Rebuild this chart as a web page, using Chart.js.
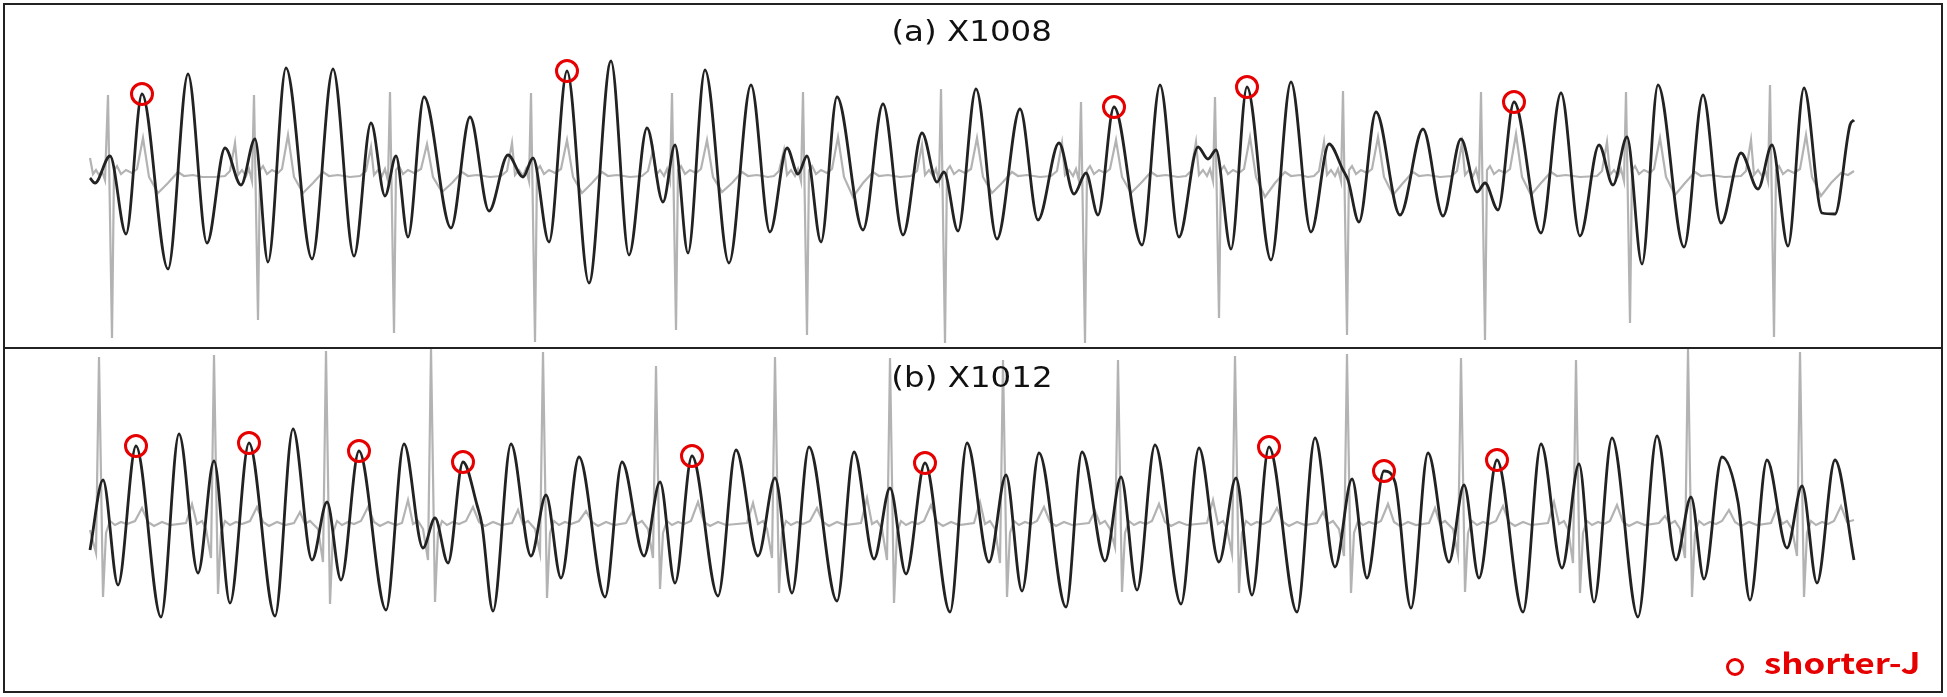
<!DOCTYPE html>
<html><head><meta charset="utf-8">
<script src="https://cdn.jsdelivr.net/npm/chart.js@4.4.1/dist/chart.umd.min.js"></script>
<style>
html,body{margin:0;padding:0;background:#fff;}
body{width:1947px;height:697px;position:relative;overflow:hidden;}
.cv{position:absolute;left:0;width:1947px;}
.box{position:absolute;border:2px solid #222;pointer-events:none;box-sizing:border-box;}
.ttl{position:absolute;left:0;width:1944px;text-align:center;font-family:"DejaVu Sans",sans-serif;font-size:29px;line-height:29px;color:#111;}
.ttl span{display:inline-block;transform:scaleX(1.12);}
#leg{position:absolute;left:1726px;top:650px;height:30px;font-family:"Noto Sans CJK SC","Noto Sans",sans-serif;font-weight:bold;color:#e60000;font-size:29px;line-height:30px;white-space:nowrap;}
#legMark{position:absolute;left:0;top:8px;width:12px;height:12px;border:3px solid #e60000;border-radius:50%;}
#legText{position:absolute;left:38px;top:-4px;transform:scaleX(1.2);transform-origin:0 50%;}
</style></head>
<body>
<div class="cv" style="top:0;height:348px;"><canvas id="ca"></canvas></div>
<div class="cv" style="top:348px;height:349px;"><canvas id="cb"></canvas></div>
<div class="box" style="left:3px;top:3px;width:1940px;height:346px;"></div>
<div class="box" style="left:3px;top:347px;width:1940px;height:346px;"></div>
<div class="ttl" id="titleA" style="top:17px;"><span></span></div>
<div class="ttl" id="titleB" style="top:363px;"><span></span></div>
<div id="leg"><div id="legMark"></div><div id="legText"></div></div>
<script>
// ---- texts ----
const panelTitles = ["(a) X1008", "(b) X1012"];
const legendLabel = "shorter-J";

// ---- panel (a) X1008 : [time (samples), amplitude] ----
const bcgA = [[0,-5],[5,-10],[20,17],[36,-61],[52,79],[78,-96],[98,99],[117,-70],[135,25],[151,-12],[165,34],[178,-89],[196,105],[222,-86],[243,104],[264,-83],[281,50],[295,-23],[306,17],[318,-64],[334,76],[361,-55],[380,56],[399,-38],[418,18],[433,-4],[443,15],[459,-69],[477,102],[499,-110],[521,112],[539,-82],[557,45],[573,-29],[585,28],[598,-80],[615,103],[639,-90],[661,88],[680,-59],[697,25],[708,-1],[717,17],[731,-69],[747,76],[773,-57],[793,69],[813,-62],[832,40],[847,-9],[854,1],[868,-58],[886,84],[907,-66],[930,64],[948,-47],[969,30],[984,-21],[996,0],[1008,-42],[1024,66],[1052,-72],[1070,88],[1089,-64],[1108,26],[1118,14],[1126,23],[1141,-76],[1157,86],[1181,-87],[1201,91],[1221,-59],[1239,29],[1253,3],[1258,-7],[1269,-49],[1286,61],[1310,-42],[1333,44],[1353,-43],[1371,34],[1387,-19],[1395,-10],[1408,-37],[1424,71],[1451,-60],[1471,80],[1490,-63],[1509,28],[1523,-12],[1537,36],[1552,-91],[1568,88],[1594,-74],[1613,78],[1631,-50],[1651,20],[1668,-16],[1682,28],[1698,-73],[1714,85],[1732,-40],[1745,-41],[1760,48],[1764,53]];
const ecgA = [[0,15],[3,-1],[6,3],[9,-2],[12,2],[15,-7],
[18,78],[22,-165],[24,3],[27,7],[31,-1],[36,3],[42,0],[47,4],[53,35],[59,-4],[68,-20],[78,-10],[88,1],[94,-3],[103,-2],[112,-4],[125,-4],[135,-3],
[140,2],[145,30],[148,-2],[152,3],[156,-3],[159,4],[162,-8],[164,78],[168,-147],[170,3],[173,7],[177,-1],[182,3],[188,0],[192,4],[198,38],[204,-4],[213,-20],[223,-10],[233,1],[239,-3],[248,-2],[260,-4],[270,-3],
[276,2],[281,26],[284,-2],[288,3],[292,-3],[295,4],[298,-8],[300,81],[304,-160],[306,3],[309,7],[313,-1],[318,3],[324,0],[331,4],[337,29],[343,-4],[352,-19],[362,-10],[372,1],[378,-3],[387,-2],[400,-4],[411,-3],
[417,2],[422,30],[425,-2],[429,3],[433,-3],[436,4],[439,-8],[441,80],[445,-169],[447,3],[450,7],[454,-1],[459,3],[465,0],[471,4],[477,33],[483,-4],[492,-20],[502,-10],[512,1],[518,-3],[527,-2],[540,-4],[552,-3],
[558,2],[563,23],[566,-2],[570,3],[574,-3],[577,4],[580,-8],[582,80],[586,-157],[588,3],[591,7],[595,-1],[600,3],[606,0],[611,4],[617,33],[623,-4],[632,-19],[642,-10],[652,1],[658,-3],[667,-2],[678,-4],[684,-3],
[689,2],[694,23],[697,-2],[701,3],[705,-3],[708,4],[711,-8],[713,81],[717,-162],[719,3],[722,7],[726,-1],[731,3],[737,0],[742,4],[748,36],[754,-4],[763,-24],[773,-10],[783,1],[789,-3],[798,-2],[810,-4],[821,-3],
[827,2],[832,28],[835,-2],[839,3],[843,-3],[846,4],[849,-8],[851,84],[855,-170],[857,3],[860,7],[864,-1],[869,3],[875,0],[881,4],[887,35],[893,-4],[902,-20],[912,-10],[922,1],[928,-3],[937,-2],[950,-4],[961,-3],
[967,2],[972,30],[975,-2],[979,3],[983,-3],[986,4],[989,-8],[991,71],[995,-170],[997,3],[1000,7],[1004,-1],[1009,3],[1015,0],[1020,4],[1026,33],[1032,-4],[1041,-20],[1051,-10],[1061,1],[1067,-3],[1076,-2],[1088,-4],[1096,-3],
[1101,2],[1106,31],[1109,-2],[1113,3],[1117,-3],[1120,4],[1123,-8],[1125,76],[1129,-145],[1131,3],[1134,7],[1138,-1],[1143,3],[1149,0],[1154,4],[1160,36],[1166,-4],[1175,-24],[1185,-10],[1195,1],[1201,-3],[1210,-2],[1218,-4],[1224,-3],
[1229,2],[1234,31],[1237,-2],[1241,3],[1245,-3],[1248,4],[1251,-8],[1253,82],[1257,-162],[1259,3],[1262,7],[1266,-1],[1271,3],[1277,0],[1282,4],[1288,36],[1294,-4],[1303,-22],[1313,-10],[1323,1],[1329,-3],[1338,-2],[1350,-4],[1362,-3],
[1367,2],[1372,30],[1375,-2],[1379,3],[1383,-3],[1386,4],[1389,-8],[1391,81],[1395,-167],[1397,3],[1400,7],[1404,-1],[1409,3],[1415,0],[1420,4],[1426,39],[1432,-4],[1441,-22],[1451,-10],[1461,1],[1467,-3],[1476,-2],[1490,-4],[1507,-3],
[1512,2],[1517,31],[1520,-2],[1524,3],[1528,-3],[1531,4],[1534,-8],[1536,81],[1540,-150],[1542,3],[1545,7],[1549,-1],[1554,3],[1560,0],[1564,4],[1570,35],[1576,-4],[1585,-22],[1595,-10],[1605,1],[1611,-3],[1620,-2],[1635,-4],[1651,-3],
[1656,2],[1661,33],[1664,-2],[1668,3],[1672,-3],[1675,4],[1678,-8],[1680,88],[1684,-164],[1686,3],[1689,7],[1693,-1],[1698,3],[1704,0],[1710,4],[1716,38],[1722,-4],[1731,-23],[1741,-10],[1751,0],[1758,-2],[1764,2]];
const shortJA = [[52,79],[477,102],[1024,66],[1157,86],[1424,71]];

// ---- panel (b) X1012 ----
const bcgB = [[0,-27],[13,43],[28,-62],[46,77],[71,-94],[89,89],[108,-50],[124,62],[140,-80],[159,80],[185,-93],[203,94],[222,-37],[237,21],[251,-57],[269,72],[296,-87],[314,79],[333,-25],[345,5],[358,-40],[373,61],[387,18],[392,-2],[403,-88],[421,79],[441,-33],[456,28],[471,-55],[489,66],[515,-74],[532,61],[554,-33],[570,41],[585,-60],[602,67],[628,-73],[646,73],[668,-33],[685,45],[702,-70],[719,76],[747,-78],[764,71],[784,-36],[800,35],[816,-51],[835,60],[860,-89],[877,80],[899,-39],[916,48],[932,-68],[949,70],[976,-84],[992,71],[1015,-38],[1031,46],[1047,-67],[1065,78],[1091,-81],[1109,75],[1129,-39],[1146,45],[1162,-72],[1179,76],[1207,-89],[1225,85],[1245,-44],[1262,44],[1277,-55],[1294,52],[1305,41],[1321,-85],[1338,70],[1359,-39],[1374,38],[1389,-55],[1407,63],[1433,-89],[1451,79],[1472,-45],[1489,59],[1504,-79],[1522,85],[1548,-94],[1567,87],[1586,-37],[1601,26],[1614,-56],[1632,66],[1648,21],[1660,-77],[1677,63],[1697,-25],[1712,37],[1727,-60],[1745,63],[1764,-37]];
const ecgB = [[0,-7],[6,-30],[9,166],[13,-74],[16,-10],[20,2],[25,-2],[31,1],[37,-1],[45,2],[52,15],[58,1],[64,-3],[72,1],[80,-2],
[96,0],[102,19],[107,-1],[112,2],[116,-6],[121,-35],[124,168],[128,-71],[131,-10],[135,2],[140,-2],[146,1],[152,-1],[160,2],[167,16],[173,1],[179,-3],[187,1],[195,-2],
[204,0],[210,11],[215,-1],[220,2],[228,-6],[233,-39],[236,172],[240,-81],[243,-10],[247,2],[252,-2],[258,1],[264,-1],[271,2],[278,16],[284,1],[290,-3],[298,1],[306,-2],
[312,0],[318,23],[323,-1],[328,2],[333,-6],[338,-37],[341,175],[345,-79],[348,-10],[352,2],[357,-2],[363,1],[369,-1],[376,2],[383,16],[389,1],[395,-3],[403,1],[411,-2],
[422,0],[428,13],[433,-1],[438,2],[445,-6],[450,-30],[453,171],[457,-75],[460,-10],[464,2],[469,-2],[475,1],[481,-1],[489,2],[496,12],[502,1],[508,-3],[516,1],[524,-2],
[536,0],[542,11],[547,-1],[552,2],[558,-6],[563,-35],[566,157],[570,-66],[573,-10],[577,2],[582,-2],[588,1],[594,-1],[601,2],[608,21],[614,1],[620,-3],[628,1],[636,-2],
[657,0],[663,20],[668,-1],[673,2],[677,-6],[682,-35],[685,166],[689,-70],[692,-10],[696,2],[701,-2],[707,1],[713,-1],[720,2],[727,15],[733,1],[739,-3],[747,1],[755,-2],
[771,0],[777,25],[782,-1],[787,2],[792,-6],[797,-37],[800,165],[804,-80],[807,-10],[811,2],[816,-2],[822,1],[828,-1],[834,2],[841,18],[847,1],[853,-3],[861,1],[869,-2],
[884,0],[890,21],[895,-1],[900,2],[905,-6],[910,-40],[913,163],[917,-74],[920,-10],[924,2],[929,-2],[935,1],[941,-1],[947,2],[954,16],[960,1],[966,-3],[974,1],[982,-2],
[999,0],[1005,12],[1010,-1],[1015,2],[1020,-6],[1025,-24],[1028,163],[1032,-69],[1035,-10],[1039,2],[1044,-2],[1050,1],[1056,-1],[1062,2],[1069,19],[1075,1],[1081,-3],[1089,1],[1097,-2],
[1117,0],[1123,23],[1128,-1],[1133,2],[1137,-6],[1142,-31],[1145,167],[1149,-70],[1152,-10],[1156,2],[1161,-2],[1167,1],[1173,-1],[1180,2],[1187,15],[1193,1],[1199,-3],[1207,1],[1215,-2],
[1227,0],[1233,11],[1238,-1],[1243,2],[1249,-6],[1254,-33],[1257,169],[1261,-70],[1264,-10],[1268,2],[1273,-2],[1279,1],[1285,-1],[1291,2],[1298,19],[1304,1],[1310,-3],[1318,1],[1326,-2],
[1339,0],[1345,15],[1350,-1],[1355,2],[1363,-6],[1368,-32],[1371,165],[1375,-69],[1378,-10],[1382,2],[1387,-2],[1393,1],[1399,-1],[1406,2],[1413,17],[1419,1],[1425,-3],[1433,1],[1441,-2],
[1458,0],[1464,21],[1469,-1],[1474,2],[1478,-6],[1483,-40],[1486,163],[1490,-70],[1493,-10],[1497,2],[1502,-2],[1508,1],[1514,-1],[1520,2],[1527,18],[1533,1],[1539,-3],[1547,1],[1555,-2],
[1569,0],[1575,7],[1580,-1],[1585,2],[1590,-6],[1595,-35],[1598,174],[1602,-74],[1605,-10],[1609,2],[1614,-2],[1620,1],[1626,-1],[1632,2],[1639,13],[1645,1],[1651,-3],[1659,1],[1667,-2],
[1681,0],[1687,15],[1692,-1],[1697,2],[1702,-6],[1707,-33],[1710,171],[1714,-74],[1717,-10],[1721,2],[1726,-2],[1732,1],[1738,-1],[1744,2],[1751,17],[1757,1],[1764,3]];
const shortJB = [[46,77],[159,80],[269,72],[373,61],[602,67],[835,60],[1179,76],[1294,52],[1407,63]];

// ---- styling ----
const RED = '#e60000';
const toXY = arr => arr.map(([t, v]) => ({x: t, y: v}));

function makePanel(canvasId, bcg, ecg, marks, yMin, yMax) {
  return new Chart(document.getElementById(canvasId), {
    type: 'line',
    data: {
      datasets: [
        {label: 'ECG', data: toXY(ecg), borderColor: '#b3b3b3', borderWidth: 2.2, pointRadius: 0, tension: 0, fill: false, order: 2},
        {label: 'BCG', data: toXY(bcg), borderColor: '#222222', borderWidth: 2.8, pointRadius: 0, cubicInterpolationMode: 'monotone', fill: false, order: 1},
        {label: legendLabel, type: 'scatter', data: toXY(marks), showLine: false, pointStyle: 'circle', pointRadius: 10.5, pointHoverRadius: 10.5, borderColor: RED, pointBorderColor: RED, borderWidth: 3, pointBorderWidth: 3, backgroundColor: 'rgba(0,0,0,0)', pointBackgroundColor: 'rgba(0,0,0,0)', order: 0}
      ]
    },
    options: {
      animation: false,
      responsive: true,
      maintainAspectRatio: false,
      events: [],
      layout: {padding: 0, autoPadding: false},
      plugins: {legend: {display: false}, tooltip: {enabled: false}, title: {display: false}},
      scales: {
        x: {type: 'linear', display: false, min: -90, max: 1857},
        y: {type: 'linear', display: false, min: yMin, max: yMax}
      }
    }
  });
}

makePanel('ca', bcgA, ecgA, shortJA, -175, 173);
makePanel('cb', bcgB, ecgB, shortJB, -174, 175);

document.querySelector('#titleA span').textContent = panelTitles[0];
document.querySelector('#titleB span').textContent = panelTitles[1];
document.getElementById('legText').textContent = legendLabel;
</script>
</body></html>
